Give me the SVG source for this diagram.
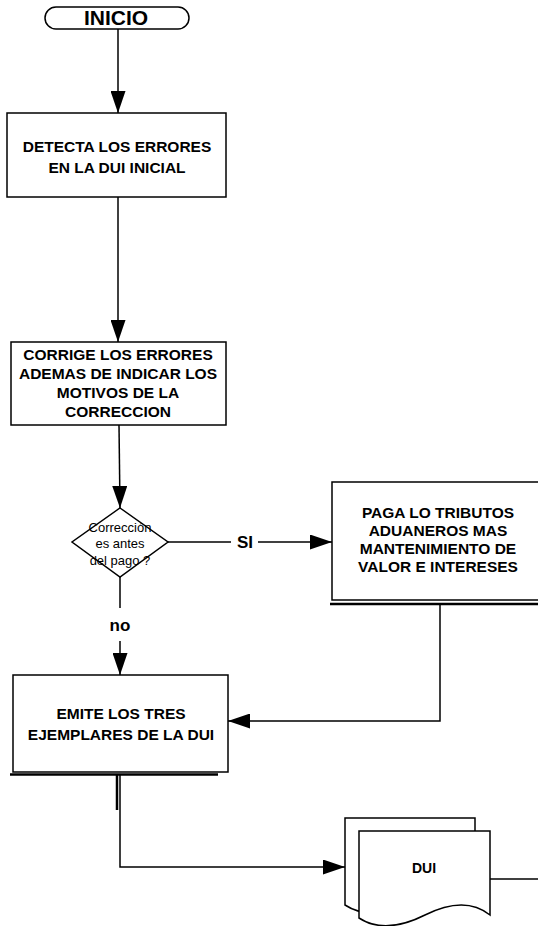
<svg xmlns="http://www.w3.org/2000/svg" width="538" height="926" viewBox="0 0 538 926">
<style>
.shape{fill:#fff;stroke:#000;stroke-width:1.5}
.bt{font-family:"Liberation Sans",Arial,sans-serif;font-weight:bold;font-size:15.5px;text-anchor:middle;fill:#000}
.dt{font-family:"Liberation Sans",Arial,sans-serif;font-size:13px;text-anchor:middle;fill:#000}
.lbl{font-family:"Liberation Sans",Arial,sans-serif;font-weight:bold;font-size:17px;text-anchor:middle;fill:#000}
.ln{fill:none;stroke:#000;stroke-width:1.5}
.thick{fill:none;stroke:#000;stroke-width:2.5}
</style>
<defs>
<marker id="arr" viewBox="0 0 22 15" refX="22" refY="7.5" markerWidth="22" markerHeight="15" markerUnits="userSpaceOnUse" orient="auto">
<path d="M0,0 L22,7.5 L0,15 Z" fill="#000"/>
</marker>
</defs>
<rect width="538" height="926" fill="#fff"/>
<g id="connectors">
<line class="ln" x1="118" y1="29" x2="118" y2="113" marker-end="url(#arr)"/>
<line class="ln" x1="118" y1="197" x2="118" y2="342" marker-end="url(#arr)"/>
<line class="ln" x1="119" y1="425" x2="120" y2="508" marker-end="url(#arr)"/>
<line class="ln" x1="168" y1="542" x2="231" y2="542"/>
<line class="ln" x1="258" y1="542" x2="332" y2="542" marker-end="url(#arr)"/>
<text class="lbl" x="245" y="548">SI</text>
<line class="ln" x1="120" y1="577" x2="120" y2="608"/>
<text class="lbl" x="120" y="631">no</text>
<line class="ln" x1="120" y1="641" x2="120" y2="675" marker-end="url(#arr)"/>
<polyline class="ln" points="440,604 440,721 228,721" marker-end="url(#arr)"/>
<line class="thick" x1="117" y1="774" x2="117" y2="810"/>
<polyline class="ln" points="120,774 120,867 345,867" marker-end="url(#arr)"/>
<line class="ln" x1="490" y1="879" x2="538" y2="879"/>
</g>
<g id="inicio">
<rect class="shape" x="45" y="7" width="144" height="22" rx="11" ry="11"/>
<text class="bt" x="116" y="25" style="font-size:21px">INICIO</text>
</g>
<g id="detecta">
<rect class="shape" x="7" y="113" width="219" height="84"/>
<text class="bt" x="117" y="152">DETECTA LOS ERRORES</text>
<text class="bt" x="117" y="173">EN LA DUI INICIAL</text>
</g>
<g id="corrige">
<rect class="shape" x="11" y="342" width="215" height="83"/>
<text class="bt" x="118" y="360">CORRIGE LOS ERRORES</text>
<text class="bt" x="118" y="379">ADEMAS DE INDICAR LOS</text>
<text class="bt" x="118" y="398">MOTIVOS DE LA</text>
<text class="bt" x="118" y="417">CORRECCION</text>
</g>
<g id="decision">
<polygon class="shape" points="120,508 168,542 120,577 72,542"/>
<text class="dt" x="120" y="531.5">Corrección</text>
<text class="dt" x="120" y="547.5">es antes</text>
<text class="dt" x="120" y="564.5">del pago ?</text>
</g>
<g id="paga">
<rect class="shape" x="332" y="482" width="215" height="118"/>
<line class="thick" x1="330" y1="604" x2="538" y2="604"/>
<text class="bt" x="438" y="518">PAGA LO TRIBUTOS</text>
<text class="bt" x="438" y="536">ADUANEROS MAS</text>
<text class="bt" x="438" y="554">MANTENIMIENTO DE</text>
<text class="bt" x="438" y="572">VALOR E INTERESES</text>
</g>
<g id="emite">
<rect class="shape" x="13" y="675" width="215" height="97"/>
<line class="thick" x1="10" y1="774.5" x2="218" y2="774.5"/>
<text class="bt" x="121" y="719">EMITE LOS TRES</text>
<text class="bt" x="121" y="740">EJEMPLARES DE LA DUI</text>
</g>
<g id="dui">
<path class="shape" d="M345,818 H475 V902 Q451,882 411,902 T345,905 Z"/>
<path class="shape" d="M359,831 H490 V915 Q465,895 425,915 T359,918 Z"/>
<text class="bt" x="424" y="873" style="font-size:14px">DUI</text>
</g>
</svg>
